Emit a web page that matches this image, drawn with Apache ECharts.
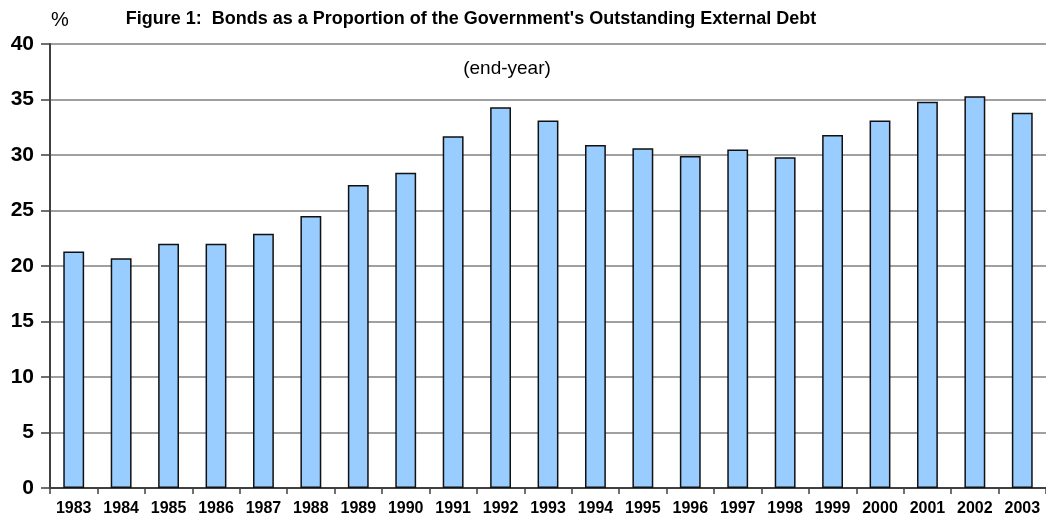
<!DOCTYPE html>
<html>
<head>
<meta charset="utf-8">
<script src="https://cdn.jsdelivr.net/npm/echarts@6/dist/echarts.min.js"></script>
<style>
	html, body { margin: 0; padding: 0; background: #fff; }
	#draw { width: 1046px; height: 523px; }
</style>
</head>
<body>
<div id="draw"></div>
<script>
	// end-year figures, % of outstanding external debt
	var years = ['1983', '1984', '1985', '1986', '1987', '1988', '1989', '1990', '1991', '1992', '1993',
		'1994', '1995', '1996', '1997', '1998', '1999', '2000', '2001', '2002', '2003'];
	var bondShare = [21.3, 20.7, 22.0, 22.0, 22.9, 24.5, 27.3, 28.4, 31.7, 34.3, 33.1,
		30.9, 30.6, 29.9, 30.5, 29.8, 31.8, 33.1, 34.8, 35.3, 33.8];
	var yTicks = [0, 5, 10, 15, 20, 25, 30, 35, 40];

	var myChart = echarts.init(document.getElementById('draw'));
	myChart.setOption({
		animation: false,
		textStyle: { fontFamily: '"Liberation Sans", Arial, sans-serif' },
		title: [{
			text: "Figure 1:  Bonds as a Proportion of the Government's Outstanding External Debt",
			left: 466,
			textAlign: 'center',
			top: 5,
			textStyle: { fontSize: 18, fontWeight: 'bold', color: '#000' }
		}, {
			text: '(end-year)',
			left: 502,
			textAlign: 'center',
			top: 54,
			textStyle: { fontSize: 19, fontWeight: 'normal', color: '#000' }
		}, {
			text: '%',
			left: 46,
			top: 5,
			textStyle: { fontSize: 20, fontWeight: 'normal', color: '#000' }
		}],
		grid: {
			top: 44,
			bottom: 35,
			left: 50,
			right: -2
		},
		xAxis: {
			type: 'category',
			data: years,
			axisLine: { lineStyle: { color: '#404040', width: 2 } },
			axisTick: { show: true, length: 6, lineStyle: { color: '#404040', width: 1.5 } },
			axisLabel: {
				color: '#000',
				fontSize: 16,
				fontWeight: 'bold',
				margin: 13,
				interval: 0
			}
		},
		yAxis: {
			type: 'value',
			min: yTicks[0],
			max: yTicks[yTicks.length - 1],
			interval: 5,
			axisLine: { show: true, lineStyle: { color: '#404040', width: 2 } },
			axisTick: { show: true, length: 9, lineStyle: { color: '#404040', width: 1.5 } },
			axisLabel: {
				color: '#000',
				fontSize: 21,
				fontWeight: 'bold',
				margin: 16
			},
			splitLine: { lineStyle: { color: '#808080', width: 1.5 } }
		},
		series: [{
			type: 'bar',
			data: bondShare,
			barWidth: '44%',
			itemStyle: {
				color: '#99CCFF',
				borderColor: '#111',
				borderWidth: 1.5
			}
		}]
	});
</script>
</body>
</html>
